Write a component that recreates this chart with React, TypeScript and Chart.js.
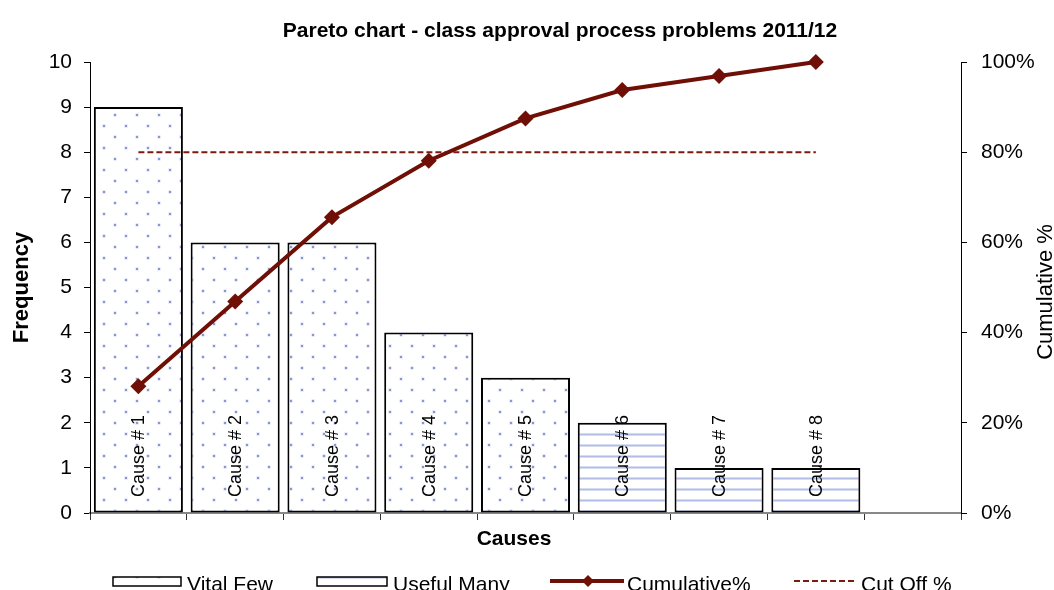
import React, { useEffect, useRef } from 'react';
import { Chart, registerables } from 'chart.js';

Chart.register(...registerables);

const FONT = '"Liberation Sans", Arial, Helvetica, sans-serif';

const chartTitle = 'Pareto chart - class approval process problems 2011/12';
const xTitle = 'Causes';
const yTitle = 'Frequency';
const y1Title = 'Cumulative %';

const categories = ['Cause # 1', 'Cause # 2', 'Cause # 3', 'Cause # 4', 'Cause # 5', 'Cause # 6', 'Cause # 7', 'Cause # 8', ''];
const vitalFew = [9, 6, 6, 4, 3, null, null, null, null];
const usefulMany = [null, null, null, null, null, 2, 1, 1, null];
const cumulativePct = [28.1, 46.9, 65.6, 78.1, 87.5, 93.8, 96.9, 100, null];
const cutOffPct = [80, 80, 80, 80, 80, 80, 80, 80, null];
const seriesNames = ['Vital Few', 'Useful Many', 'Cumulative%', 'Cut Off %'];

const LINE_RED = '#6f0f06';
const CUT_RED = '#7a1a10';

function makeDotPattern(ctx: CanvasRenderingContext2D) {
  const c = document.createElement('canvas');
  c.width = 22;
  c.height = 22;
  const g = c.getContext('2d')!;
  g.fillStyle = '#ffffff';
  g.fillRect(0, 0, 22, 22);
  [[5, 5], [16, 16]].forEach(([x, y]) => {
    g.fillStyle = '#cdd4ef';
    g.fillRect(x - 1.5, y - 1.5, 3, 3);
    g.fillStyle = '#8796d4';
    g.fillRect(x - 1, y - 1, 2, 2);
  });
  return ctx.createPattern(c, 'repeat')!;
}

function makeStripePattern(ctx: CanvasRenderingContext2D) {
  const c = document.createElement('canvas');
  c.width = 8;
  c.height = 11;
  const g = c.getContext('2d')!;
  g.fillStyle = '#ffffff';
  g.fillRect(0, 0, 8, 11);
  g.fillStyle = '#d6dcf1';
  g.fillRect(0, 4, 8, 3);
  g.fillStyle = '#b2bde6';
  g.fillRect(0, 5, 8, 1);
  return ctx.createPattern(c, 'repeat')!;
}

function diamond(ctx: CanvasRenderingContext2D, x: number, y: number, r: number) {
  ctx.beginPath();
  ctx.moveTo(x, y - r);
  ctx.lineTo(x + r, y);
  ctx.lineTo(x, y + r);
  ctx.lineTo(x - r, y);
  ctx.closePath();
  ctx.fill();
}

export default function App() {
  const ref = useRef<HTMLCanvasElement>(null);

  useEffect(() => {
    const canvas = ref.current!;
    const ctx0 = canvas.getContext('2d')!;
    const dots = makeDotPattern(ctx0);
    const stripes = makeStripePattern(ctx0);

    const decor = {
      id: 'decor',
      afterDatasetDraw(chart: any, args: any) {
        if (args.index !== 0) return;
        const ctx = chart.ctx as CanvasRenderingContext2D;
        const xs = chart.scales.x;
        const ys = chart.scales.y;
        ctx.save();
        ctx.font = `18px ${FONT}`;
        ctx.fillStyle = '#000';
        ctx.textAlign = 'left';
        ctx.textBaseline = 'middle';
        categories.forEach((lab, i) => {
          if (!lab) return;
          const cx = xs.getPixelForValue(i);
          ctx.save();
          ctx.translate(cx + 1, ys.bottom - 16);
          ctx.rotate(-Math.PI / 2);
          ctx.fillText(lab, 0, 0);
          ctx.restore();
        });
        ctx.restore();
      },
      afterDraw(chart: any) {
        const ctx = chart.ctx as CanvasRenderingContext2D;
        const a = chart.chartArea;
        ctx.save();
        ctx.fillStyle = '#000';
        // title
        ctx.font = `bold 21px ${FONT}`;
        ctx.textAlign = 'center';
        ctx.textBaseline = 'alphabetic';
        ctx.fillText(chartTitle, 560, 37);
        // x title
        ctx.font = `bold 21px ${FONT}`;
        ctx.fillText(xTitle, 514, 545);
        // y title
        ctx.save();
        ctx.translate(22, (a.top + a.bottom) / 2);
        ctx.rotate(-Math.PI / 2);
        ctx.textBaseline = 'middle';
        ctx.font = `bold 22px ${FONT}`;
        ctx.fillText(yTitle, 0, 0);
        ctx.restore();
        // y1 title
        ctx.save();
        ctx.translate(1046, 292);
        ctx.rotate(-Math.PI / 2);
        ctx.textBaseline = 'middle';
        ctx.font = `22px ${FONT}`;
        ctx.fillText(y1Title, 0, 0);
        ctx.restore();

        // legend
        const ly = 581;
        ctx.textAlign = 'left';
        ctx.textBaseline = 'alphabetic';
        ctx.font = `21px ${FONT}`;
        // Vital Few
        ctx.fillStyle = dots;
        ctx.fillRect(113, 577, 68, 9);
        ctx.strokeStyle = '#000';
        ctx.lineWidth = 1.5;
        ctx.strokeRect(113, 577, 68, 9);
        ctx.fillStyle = '#000';
        ctx.fillText(seriesNames[0], 187, 591);
        // Useful Many
        ctx.fillStyle = stripes;
        ctx.fillRect(317, 577, 70, 9);
        ctx.strokeRect(317, 577, 70, 9);
        ctx.fillStyle = '#000';
        ctx.fillText(seriesNames[1], 393, 591);
        // Cumulative
        ctx.strokeStyle = LINE_RED;
        ctx.lineWidth = 4;
        ctx.beginPath();
        ctx.moveTo(550, ly);
        ctx.lineTo(624, ly);
        ctx.stroke();
        ctx.fillStyle = LINE_RED;
        diamond(ctx, 588, ly, 6);
        ctx.fillStyle = '#000';
        ctx.fillText(seriesNames[2], 627, 591);
        // Cut off
        ctx.strokeStyle = CUT_RED;
        ctx.lineWidth = 2;
        ctx.setLineDash([6, 3]);
        ctx.beginPath();
        ctx.moveTo(794, ly);
        ctx.lineTo(856, ly);
        ctx.stroke();
        ctx.setLineDash([]);
        ctx.fillStyle = '#000';
        ctx.fillText(seriesNames[3], 861, 591);
        ctx.restore();
      },
    };

    const chart = new Chart(canvas, {
      type: 'bar',
      data: {
        labels: categories,
        datasets: [
          {
            type: 'bar',
            label: seriesNames[0],
            data: vitalFew as any,
            backgroundColor: dots,
            borderColor: '#000',
            borderWidth: 2,
            borderSkipped: false,
            grouped: false,
            barPercentage: 0.92,
            categoryPercentage: 1,
            yAxisID: 'y',
            order: 2,
          } as any,
          {
            type: 'bar',
            label: seriesNames[1],
            data: usefulMany as any,
            backgroundColor: stripes,
            borderColor: '#000',
            borderWidth: 2,
            borderSkipped: false,
            grouped: false,
            barPercentage: 0.92,
            categoryPercentage: 1,
            yAxisID: 'y',
            order: 3,
          } as any,
          {
            type: 'line',
            label: seriesNames[2],
            data: cumulativePct as any,
            borderColor: LINE_RED,
            backgroundColor: LINE_RED,
            borderWidth: 4,
            pointStyle: 'rectRot',
            pointRadius: 8,
            pointBorderWidth: 0,
            tension: 0,
            yAxisID: 'y1',
            clip: false,
            order: 0,
          } as any,
          {
            type: 'line',
            label: seriesNames[3],
            data: cutOffPct as any,
            borderColor: CUT_RED,
            borderWidth: 2,
            borderDash: [6, 3],
            pointRadius: 0,
            tension: 0,
            yAxisID: 'y1',
            order: 1,
          } as any,
        ],
      },
      options: {
        responsive: false,
        animation: false,
        devicePixelRatio: 1,
        layout: { padding: { top: 62, left: 0, right: 0, bottom: 0 } },
        plugins: {
          legend: { display: false },
          title: { display: false },
          tooltip: { enabled: false },
        },
        scales: {
          x: {
            type: 'category',
            offset: true,
            grid: {
              offset: true,
              drawOnChartArea: false,
              drawTicks: true,
              tickLength: 7,
              color: '#333',
            },
            border: { color: '#888', width: 2 },
            ticks: { display: false },
            afterFit: (s: any) => {
              s.height = 77;
            },
          },
          y: {
            position: 'left',
            min: 0,
            max: 10,
            ticks: {
              stepSize: 1,
              color: '#000',
              padding: 12,
              font: { family: FONT, size: 21 },
            },
            grid: { drawOnChartArea: false, tickLength: 6, color: '#000' },
            border: { color: '#000', width: 1 },
            afterFit: (s: any) => {
              s.width = 90;
            },
          },
          y1: {
            position: 'right',
            min: 0,
            max: 100,
            ticks: {
              stepSize: 20,
              color: '#000',
              padding: 14,
              font: { family: FONT, size: 21 },
              callback: (v: any) => `${v}%`,
            },
            grid: { drawOnChartArea: false, tickLength: 6, color: '#000' },
            border: { color: '#000', width: 1 },
            afterFit: (s: any) => {
              s.width = 93;
            },
          },
        },
      },
      plugins: [decor],
    });

    return () => chart.destroy();
  }, []);

  return (
    <div style={{ position: 'absolute', left: 0, top: 0, width: 1054, height: 590, background: '#fff' }}>
      <canvas ref={ref} width={1054} height={590} style={{ display: 'block' }} />
    </div>
  );
}
